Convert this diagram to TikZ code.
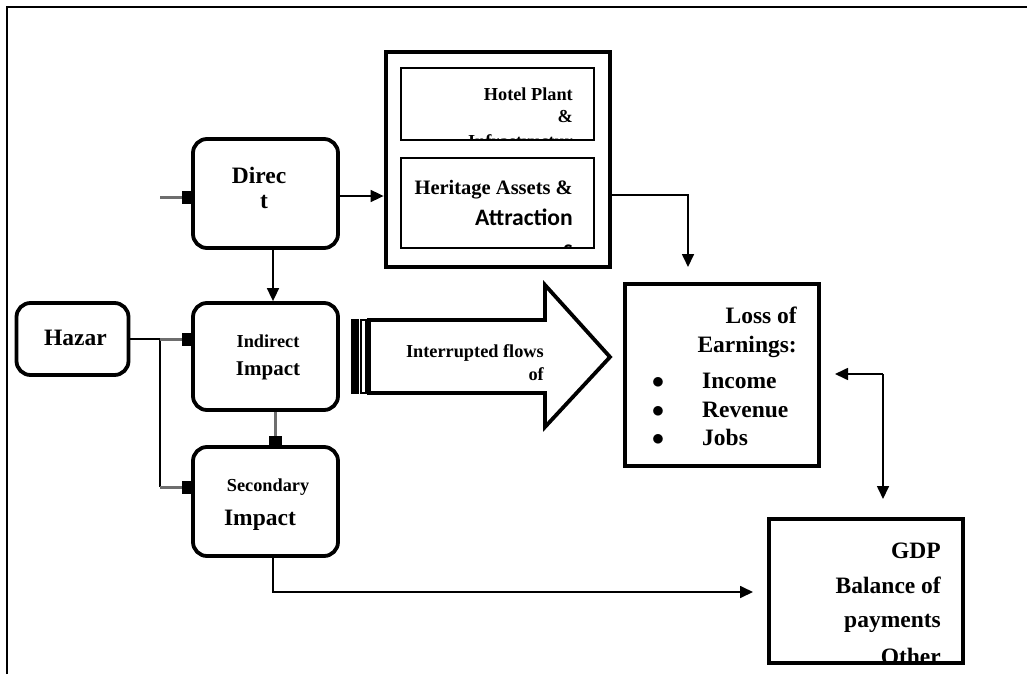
\documentclass[tikz,border=0pt]{standalone}
\usepackage{fontspec}
\setmainfont{Liberation Serif}
\newfontfamily\carl{Carlito}
\usetikzlibrary{arrows.meta}
\definecolor{lgray}{HTML}{6E6E6E}
\begin{document}
\begin{tikzpicture}[x=1pt,y=-1pt,
  rbox/.style={draw, line width=3.8pt, rounded corners=14pt, inner sep=0, minimum width=145pt},
  sbox/.style={draw, line width=3.8pt, inner sep=0},
  ibox/.style={draw, line width=1.8pt, inner sep=0},
  bigtxt/.style={font=\bfseries\fontsize{23.5}{26}\selectfont, inner sep=0},
  smalltxt/.style={font=\bfseries\fontsize{18.3}{22}\selectfont, inner sep=0},
  conn/.style={line width=1.7pt, -{Triangle[length=13pt,width=12pt]}},
  plainline/.style={line width=1.7pt},
  gconn/.style={draw=lgray, line width=3pt, -{Square[color=black,fill=black,length=9pt,width=13pt]}},
]
\useasboundingbox (0,0) rectangle (1027,674);
% outer frame
\draw[line width=1.3pt] (7,674) -- (7,7) -- (1027,7);

% boxes
\node[rbox, minimum height=109pt] (dir) at (265.5,193.5) {};
\node[rbox, minimum height=107pt] (ind) at (265.5,356.5) {};
\node[rbox, minimum height=109pt] (sec) at (265.5,501.5) {};
\node[rbox, minimum width=112pt, minimum height=72pt] (haz) at (72.5,339) {};
\node[sbox, line width=4.8pt, minimum width=224pt, minimum height=215pt] (bigb) at (498,159.5) {};
\node[ibox, minimum width=193pt, minimum height=72pt] (hotel) at (497.5,104) {};
\node[ibox, minimum width=193pt, minimum height=90pt] (herit) at (497.5,203) {};
\node[sbox, minimum width=194pt, minimum height=182pt] (loss) at (722,375) {};
\node[sbox, minimum width=194pt, minimum height=144pt] (gdp) at (866,591) {};

% texts
\node[bigtxt, anchor=base] (tdir1) at (259,183) {Direc};
\node[bigtxt, anchor=base] (tdir2) at (264,208) {t};
\node[bigtxt, anchor=base] (thaz) at (75.5,345) {Hazar};
\node[smalltxt, anchor=base] (tind1) at (268,347) {Indirect};
\node[bigtxt, anchor=base, font=\bfseries\fontsize{21}{24}\selectfont] (tind2) at (268,375) {Impact};
\node[smalltxt, anchor=base] (tsec1) at (268,491) {Secondary};
\node[bigtxt, anchor=base] (tsec2) at (260,525) {Impact};

\node[smalltxt, anchor=base east] (th1) at (573,101) {Hotel Plant};
\node[smalltxt, anchor=base east] (th2) at (573,122) {\&};
\begin{scope}
  \clip (hotel.south west) rectangle (hotel.north east);
  \node[smalltxt, anchor=base east] (th3) at (573,147) {Infrastructur};
\end{scope}
\node[bigtxt, anchor=base east, font=\bfseries\fontsize{20.5}{24}\selectfont] (tr1) at (573,194) {Heritage Assets \&};
\begin{scope}
  \clip (herit.south west) rectangle (herit.north east);
  \node[anchor=base east, inner sep=0, font=\carl\bfseries\fontsize{23.6}{26}\selectfont] (tr2) at (573,225) {Attraction};
  \node[anchor=base east, inner sep=0, font=\carl\bfseries\fontsize{23.6}{26}\selectfont] (tr3) at (573,256) {s};
\end{scope}

\node[bigtxt, anchor=base east] (tl1) at (797,323) {Loss of};
\node[bigtxt, anchor=base east] (tl2) at (797,352) {Earnings:};
\node[bigtxt, anchor=base] (b1) at (658,388) {$\bullet$};
\node[bigtxt, anchor=base] (b2) at (658,417) {$\bullet$};
\node[bigtxt, anchor=base] (b3) at (658,445) {$\bullet$};
\node[bigtxt, anchor=base west] (tl3) at (702,388) {Income};
\node[bigtxt, anchor=base west] (tl4) at (702,417) {Revenue};
\node[bigtxt, anchor=base west] (tl5) at (702,445) {Jobs};

\node[bigtxt, anchor=base east] (tg1) at (941,558) {GDP};
\node[bigtxt, anchor=base east] (tg2) at (941,593) {Balance of};
\node[bigtxt, anchor=base east] (tg3) at (941,627) {payments};
\begin{scope}
  \clip (gdp.south west) rectangle (gdp.north east);
  \node[bigtxt, anchor=base east] (tg4) at (941,664) {Other};
\end{scope}

% block arrow
\fill (351,319) rectangle (359,394);
\draw[line width=1.5pt] (361,320) rectangle (366,393);
\draw[line width=3.8pt, line join=miter] (369,320) -- (545,320) -- (545,285) -- (610,357) -- (545,427) -- (545,393) -- (369,393) -- cycle;
\node[smalltxt, anchor=base east] (tf1) at (544,357) {Interrupted flows};
\node[smalltxt, anchor=base east] (tf2) at (544,380) {of};

% connectors
\coordinate (inD) at (160,197);
\draw[gconn] (inD) -- (dir.west |- inD);
\draw[conn] (dir.east |- 0,196) -- (bigb.west |- 0,196);
\draw[conn] (dir.south -| 273,0) -- (ind.north -| 273,0);

\coordinate (bk1) at (688,195);
\coordinate (bk2) at (688,267);
\draw[conn] (bigb.east |- bk1) -- (bk1) -- (bk2);

\coordinate (hz1) at (160,339);
\coordinate (hz2) at (160,487);
\draw[plainline] (haz.east) -- (hz1) -- (hz2);
\draw[gconn] (hz1) -- (ind.west |- hz1);
\draw[gconn] (hz2) -- (sec.west |- hz2);
\draw[gconn] (ind.south -| 275,0) -- (sec.north -| 275,0);

\coordinate (sg1) at (273,592);
\coordinate (sg2) at (753,592);
\draw[conn] (sec.south -| sg1) -- (sg1) -- (sg2);

\coordinate (dl1) at (883,374);
\coordinate (dl2) at (835,374);
\coordinate (dl3) at (883,499);
\draw[conn] (dl1) -- (dl2);
\draw[conn] (dl1) -- (dl3);
\end{tikzpicture}
\end{document}
